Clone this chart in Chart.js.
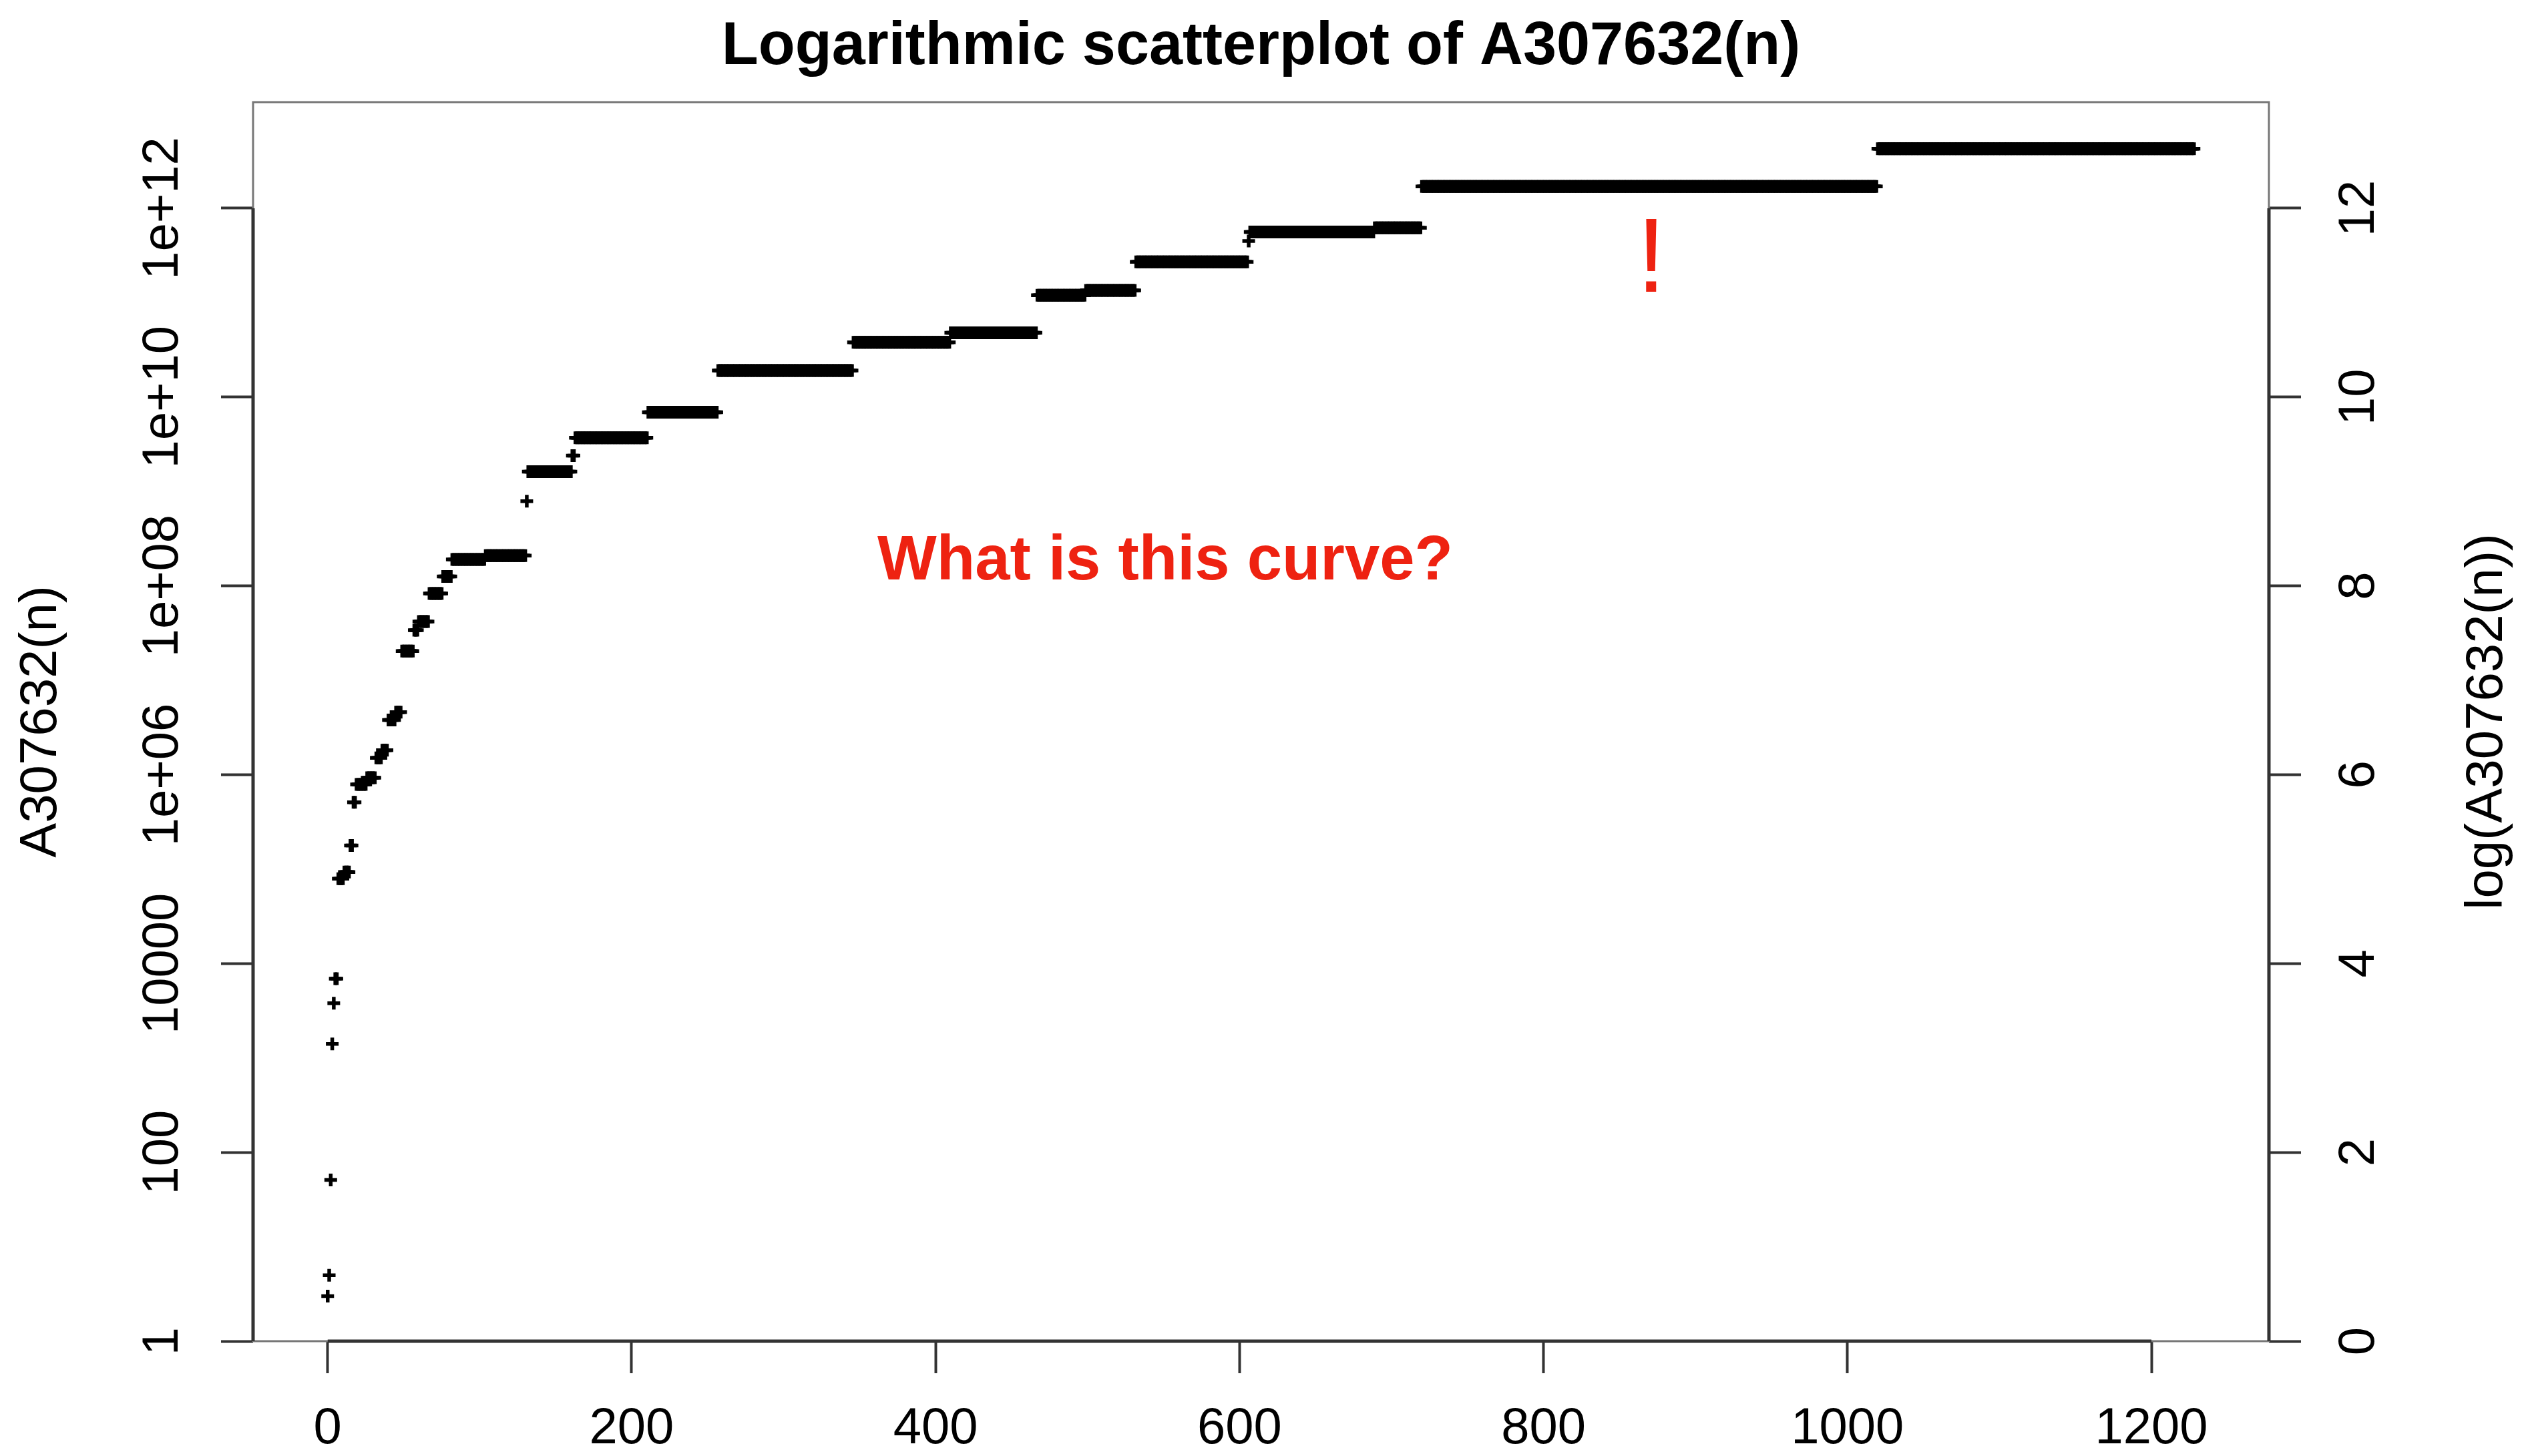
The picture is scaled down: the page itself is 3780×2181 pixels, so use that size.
<!DOCTYPE html>
<html>
<head>
<meta charset="utf-8">
<title>Logarithmic scatterplot of A307632(n)</title>
<script src="https://cdn.jsdelivr.net/npm/chart.js@4.4.1/dist/chart.umd.min.js"></script>
<style>
  html, body { margin: 0; padding: 0; background: #fff; }
  #wrap { width: 3780px; height: 2181px; }
</style>
</head>
<body>
<div id="wrap"><canvas id="plot" width="3780" height="2181"></canvas></div>
<script>
// runs of (nearly) equal terms: first n, last n, value
const runStart = [0, 1, 2, 3, 4, 5, 7, 11, 15, 17, 19, 26, 32, 36, 40, 45, 49, 57, 60, 67, 76, 82, 104, 131, 132, 161, 163, 211, 257, 346, 410, 467, 499, 532, 606, 607, 689, 720, 1020];
const runEnd   = [0, 1, 2, 3, 4, 6, 10, 14, 16, 18, 25, 31, 35, 39, 44, 48, 56, 59, 66, 75, 81, 103, 130, 131, 160, 162, 210, 256, 345, 409, 466, 498, 531, 605, 606, 688, 719, 1019, 1228];
const runValue = [3, 5, 51, 1.41e3, 3.8e3, 6.9e3, 7.9e4, 9.3e4, 1.78e5, 5.1e5, 7.9e5, 9.3e5, 1.51e6, 1.82e6, 3.8e6, 4.6e6, 2.04e7, 3.4e7, 4.2e7, 8.3e7, 1.26e8, 1.91e8, 2.09e8, 7.9e8, 1.62e9, 2.4e9, 3.7e9, 6.9e9, 1.91e10, 3.8e10, 4.8e10, 1.2e11, 1.35e11, 2.7e11, 4.5e11, 5.6e11, 6.2e11, 1.7e12, 4.27e12];

const xTicks = [0, 200, 400, 600, 800, 1000, 1200];
const yTicks = [1, 1e2, 1e4, 1e6, 1e8, 1e10, 1e12];
const yTickLabels = ["1", "100", "10000", "1e+06", "1e+08", "1e+10", "1e+12"];
const logTickLabels = ["0", "2", "4", "6", "8", "10", "12"];

const titleText = "Logarithmic scatterplot of A307632(n)";
const yTitle = "A307632(n)";
const y2Title = "log(A307632(n))";
const note = "What is this curve?";

let points = [];
for (let r = 0; r < runStart.length; r++) {
    for (let n = runStart[r]; n <= runEnd[r]; n++) {
        points.push({x: n, y: runValue[r]});
    }
}

const FONT = "'Liberation Sans', Arial, Helvetica, sans-serif";
const INK = '#000';
const RED = '#ee2211';

function setTicks(list) {
    return function (scale) {
        scale.ticks = list.map(v => ({value: v}));
    };
}

function yAxis(pos, labels, pad, w) {
    return {
        type: 'logarithmic',
        position: pos,
        min: 1,
        max: 1.33e13,
        afterBuildTicks: setTicks(yTicks),
        afterFit: function (scale) { scale.width = w; },
        border: {display: false},
        grid: {drawOnChartArea: false, drawTicks: true, tickLength: 48, tickWidth: 4, tickColor: '#333'},
        ticks: {
            autoSkip: false,
            minRotation: 90,
            maxRotation: 90,
            crossAlign: 'center',
            padding: pad,
            color: INK,
            font: {family: FONT, size: 76},
            callback: function (value, i) { return labels[i]; }
        }
    };
}

const frame = {
    id: 'frame',
    afterDraw(chart) {
        const ctx = chart.ctx;
        const a = chart.chartArea;
        const sx = chart.scales.x, sy = chart.scales.y;
        ctx.save();
        // plot box
        ctx.strokeStyle = '#777';
        ctx.lineWidth = 3;
        ctx.strokeRect(a.left, a.top, a.right - a.left, a.bottom - a.top);
        // axis lines, first to last tick like R does
        ctx.strokeStyle = '#333';
        ctx.lineWidth = 5;
        const yb = sy.getPixelForValue(yTicks[0]);
        const yt = sy.getPixelForValue(yTicks[yTicks.length - 1]);
        ctx.beginPath();
        ctx.moveTo(a.left, yb); ctx.lineTo(a.left, yt);
        ctx.moveTo(a.right, yb); ctx.lineTo(a.right, yt);
        ctx.moveTo(sx.getPixelForValue(xTicks[0]), a.bottom);
        ctx.lineTo(sx.getPixelForValue(xTicks[xTicks.length - 1]), a.bottom);
        ctx.stroke();

        // title
        ctx.fillStyle = INK;
        ctx.textAlign = 'center';
        ctx.textBaseline = 'alphabetic';
        ctx.font = 'bold 90px ' + FONT;
        ctx.fillText(titleText, (a.left + a.right) / 2, 96);

        // axis titles
        ctx.font = '78px ' + FONT;
        ctx.textBaseline = 'middle';
        const mid = (a.top + a.bottom) / 2;
        ctx.save();
        ctx.translate(62, mid);
        ctx.rotate(-Math.PI / 2);
        ctx.fillText(yTitle, 0, 0);
        ctx.restore();
        ctx.save();
        ctx.translate(3725, mid);
        ctx.rotate(-Math.PI / 2);
        ctx.fillText(y2Title, 0, 0);
        ctx.restore();

        // red notes
        ctx.fillStyle = RED;
        ctx.textBaseline = 'alphabetic';
        ctx.font = 'bold 94px ' + FONT;
        ctx.fillText(note, 1745, 868);
        ctx.font = '158px ' + FONT;
        ctx.fillText('!', 2473, 437);
        ctx.restore();
    }
};

new Chart(document.getElementById('plot'), {
    type: 'scatter',
    data: {
        datasets: [{
            label: 'A307632',
            data: points,
            pointStyle: 'cross',
            pointRadius: 9.5,
            pointBorderWidth: 5.5,
            borderColor: INK,
            backgroundColor: INK,
            showLine: false
        }]
    },
    options: {
        responsive: false,
        animation: false,
        devicePixelRatio: 1,
        layout: {padding: {top: 153, left: 0, right: 0, bottom: 0}},
        plugins: {
            legend: {display: false},
            tooltip: {enabled: false},
            title: {display: false}
        },
        scales: {
            x: {
                type: 'linear',
                position: 'bottom',
                min: -49.1,
                max: 1277.3,
                afterBuildTicks: setTicks(xTicks),
                afterFit: function (scale) { scale.height = 172; },
                border: {display: false},
                grid: {drawOnChartArea: false, drawTicks: true, tickLength: 48, tickWidth: 4, tickColor: '#333'},
                ticks: {
                    autoSkip: false,
                    maxRotation: 0,
                    padding: 38,
                    color: INK,
                    font: {family: FONT, size: 76},
                    callback: function (value) { return String(value); }
                }
            },
            y: yAxis('left', yTickLabels, -21, 379),
            y2: yAxis('right', logTickLabels, 46, 382)
        }
    },
    plugins: [frame]
});
</script>
</body>
</html>
